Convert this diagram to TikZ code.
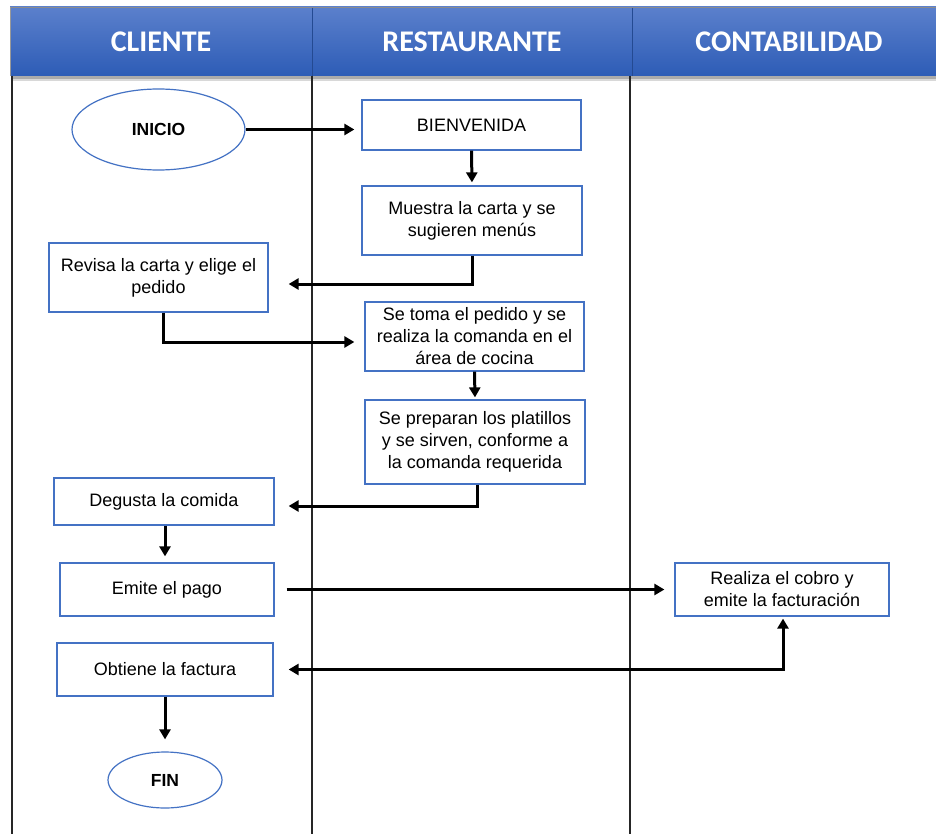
\documentclass[tikz,border=0pt]{standalone}
\usepackage{fontspec}
\setmainfont{Liberation Sans}
\newfontfamily\hdrfont{Carlito}
\usetikzlibrary{shapes.geometric,arrows.meta,calc}
\definecolor{boxblue}{HTML}{4472C4}
\definecolor{hdrtop}{HTML}{5B80CC}
\definecolor{hdrbot}{HTML}{2D5CB6}
\tikzset{
  procbox/.style={draw=boxblue,line width=1.2pt,rectangle,align=center,inner sep=0pt,
    font=\fontsize{18pt}{22pt}\selectfont},
  termnode/.style={draw=boxblue,line width=1.2pt,ellipse,inner sep=0pt,
    font=\fontsize{17.5pt}{22pt}\selectfont\bfseries},
  flow/.style={line width=3pt,-{Triangle[length=10pt,width=11pt]}},
  flowboth/.style={line width=3pt,{Triangle[length=10pt,width=11pt]}-{Triangle[length=10pt,width=11pt]}},
  lane/.style={line width=1.2pt,draw=black!85},
  hdrtext/.style={text=white,font=\hdrfont\fontsize{30pt}{34pt}\selectfont\bfseries}
}
\begin{document}
\begin{tikzpicture}[x=1pt,y=1pt]
\useasboundingbox (0,0) rectangle (936,-834);
\fill[white] (0,0) rectangle (936,-834);
% header shadow
\fill[black!55,opacity=0.6] (12,-74) rectangle (936,-79);
\fill[black!30,opacity=0.5] (12,-79) rectangle (936,-81);
% header
\shade[top color=hdrtop,bottom color=hdrbot] (10,-7) rectangle (936,-76);
\draw[black!45,line width=0.8pt] (10,-7) -- (936,-7);
\draw[black!40,line width=0.8pt] (10,-7) -- (10,-76);
\draw[hdrbot!80!black,line width=0.8pt] (312,-8) -- (312,-76);
\draw[hdrbot!80!black,line width=0.8pt] (632,-8) -- (632,-76);
\node[hdrtext] (hcli) at (161,-42) {CLIENTE};
\node[hdrtext] (hres) at (472,-42) {RESTAURANTE};
\node[hdrtext] (hcon) at (789,-42) {CONTABILIDAD};
% lanes
\draw[lane] (12,-76) -- (12,-834);
\draw[lane] (312,-76) -- (312,-834);
\draw[lane] (630,-76) -- (630,-834);
% nodes
\node[termnode,minimum width=173pt,minimum height=81pt] (inicio) at (158.5,-129.5) {INICIO};
\node[procbox,minimum width=219pt,minimum height=50pt] (bien) at (471.5,-125) {BIENVENIDA};
\node[procbox,minimum width=220pt,minimum height=69pt] (muestra) at (472,-220.5) {Muestra la carta y se\\sugieren menús};
\node[procbox,minimum width=219pt,minimum height=69pt] (revisa) at (158.5,-277.5) {Revisa la carta y elige el\\pedido};
\node[procbox,minimum width=219pt,minimum height=69pt] (toma) at (474.5,-336.5) {Se toma el pedido y se\\realiza la comanda en el\\área de cocina};
\node[procbox,minimum width=220pt,minimum height=84pt] (prepara) at (475,-442) {Se preparan los platillos\\y se sirven, conforme a\\la comanda requerida};
\node[procbox,minimum width=220pt,minimum height=47pt] (degusta) at (164,-501.5) {Degusta la comida};
\node[procbox,minimum width=214pt,minimum height=53pt] (emite) at (167,-589.5) {Emite el pago};
\node[procbox,minimum width=214pt,minimum height=53pt] (realiza) at (782,-589.5) {Realiza el cobro y\\emite la facturación};
\node[procbox,minimum width=216pt,minimum height=53pt] (obtiene) at (165,-669.5) {Obtiene la factura};
\node[termnode,minimum width=114pt,minimum height=56pt] (fin) at (165,-780) {FIN};
% connectors
\draw[flow,shorten >=7pt] (inicio.east) -- (inicio.east -| bien.west);
\draw[flow,shorten >=3pt] (bien.south) -- (muestra.north);
\draw[flow,shorten >=20pt] (muestra.south) |- ([yshift=-6.5pt]revisa.east);
\draw[flow,shorten >=10pt] ([xshift=4.5pt]revisa.south) |- ([yshift=-5.5pt]toma.west);
\draw[flow,shorten >=2pt] (toma.south) -- (prepara.north);
\draw[flow,shorten >=14pt] ([xshift=2pt]prepara.south) |- ([yshift=-4.5pt]degusta.east);
\draw[flow,shorten >=6pt] ([xshift=1pt]degusta.south) -- ([xshift=1pt]degusta.south |- emite.north);
\draw[flow,shorten <=12pt,shorten >=10pt] (emite.east) -- (realiza.west);
\draw[flowboth,shorten <=2pt,shorten >=15pt] ([xshift=1pt]realiza.south) |- (obtiene.east);
\draw[flow,shorten >=12pt] (obtiene.south) -- (fin.north);
\end{tikzpicture}
\end{document}
